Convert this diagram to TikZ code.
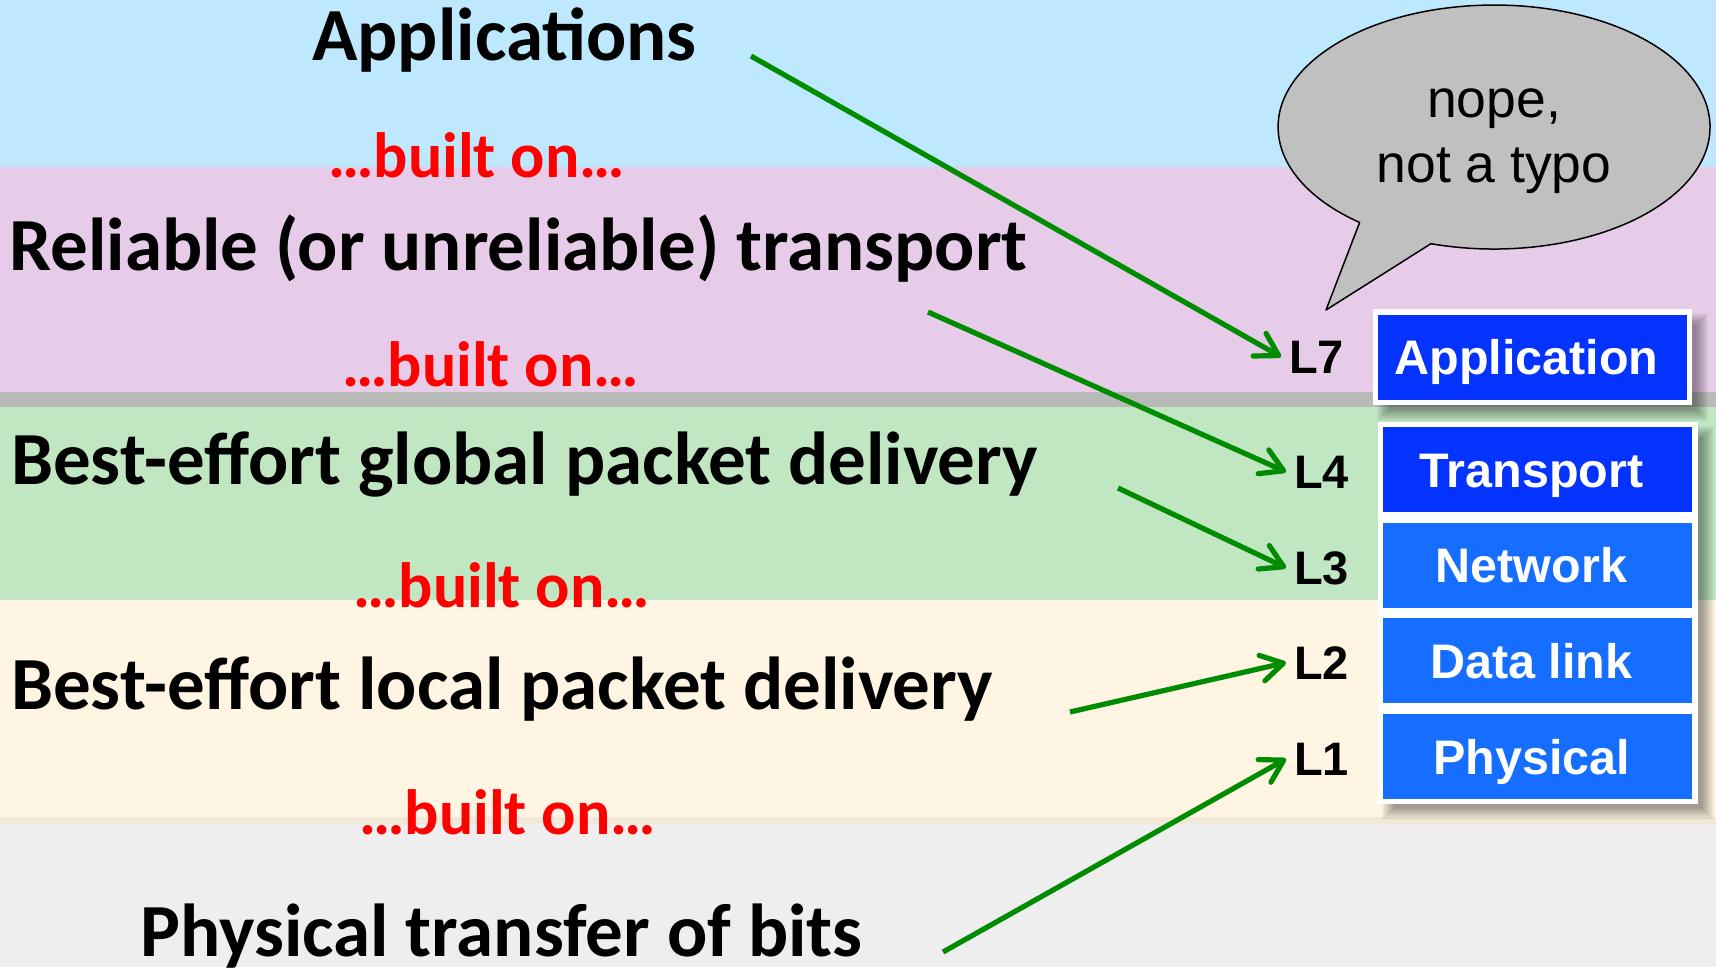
\documentclass[tikz,border=0pt]{standalone}
\usepackage{fontspec}
\setmainfont{Carlito}
\newfontfamily\arialfont{Liberation Sans}
\usetikzlibrary{arrows.meta}

\definecolor{skyband}{RGB}{190,232,253}
\definecolor{pinkband}{RGB}{230,204,232}
\definecolor{greyrule}{RGB}{184,186,184}
\definecolor{greenband}{RGB}{192,230,194}
\definecolor{creamband}{RGB}{255,245,226}
\definecolor{creamrule}{RGB}{242,232,216}
\definecolor{floorband}{RGB}{238,238,238}
\definecolor{arrowgreen}{RGB}{0,140,0}
\definecolor{deepblue}{RGB}{4,51,255}
\definecolor{brightblue}{RGB}{21,110,255}
\definecolor{bubblegrey}{RGB}{192,192,192}

\begin{document}
\begin{tikzpicture}[x=1pt,y=-1pt,
  heading/.style={anchor=base west, inner sep=0pt, font=\fontsize{75}{90}\selectfont\bfseries},
  builton/.style={anchor=base west, inner sep=0pt, text=red, font=\fontsize{64}{77}\selectfont\bfseries},
  layerlabel/.style={anchor=base west, inner xsep=8pt, inner ysep=0pt, font=\arialfont\fontsize{47}{56}\selectfont\bfseries},
  layerbox/.style={minimum width=309pt, minimum height=85pt, inner sep=0pt, text=white, text height=35pt, text depth=0pt,
    font=\arialfont\fontsize{48.5}{58}\selectfont\bfseries, execute at end node={\hspace*{12pt}}},
  link/.style={draw=arrowgreen, line width=5.2pt, -{Straight Barb[round, length=22pt, width=26pt]}},
  bubbletext/.style={anchor=base, inner sep=0pt, font=\arialfont\fontsize{53.5}{64}\selectfont},
]
\useasboundingbox (0,0) rectangle (1716,967);

% horizontal bands, one per level
\fill[skyband]   (0,0)   rectangle (1716,167);
\fill[pinkband]  (0,167) rectangle (1716,392);
\fill[greyrule]  (0,392) rectangle (1716,407);
\fill[greenband] (0,407) rectangle (1716,600);
\fill[creamband] (0,600) rectangle (1716,817);
\fill[creamrule] (0,817) rectangle (1716,824);
\fill[floorband] (0,824) rectangle (1716,967);

% soft shadows behind the layer stack
\foreach \s in {0,...,12} {
  \fill[black, opacity=0.03] ({1389-\s},{325-\s}) rectangle ({1696+\s},{409+\s});
  \fill[black, opacity=0.03] ({1394-\s},{438-\s}) rectangle ({1702+\s},{808+\s});
}

% white frames of the stack
\fill[white] (1373,309) rectangle (1692,405);
\fill[white] (1378,422) rectangle (1698,804);

% layer boxes
\node[layerbox, fill=deepblue]   (app) at (1532.5,357)   {Application};
\node[layerbox, fill=deepblue]   (tra) at (1537.5,469.5) {Transport};
\node[layerbox, fill=brightblue] (net) at (1537.5,565)   {Network};
\node[layerbox, fill=brightblue] (dat) at (1537.5,660.5) {Data link};
\node[layerbox, fill=brightblue] (phy) at (1537.5,756.5) {Physical};

% layer numbers
\node[layerlabel] (L7) at (1281,373) {L7};
\node[layerlabel] (L4) at (1286,488) {L4};
\node[layerlabel] (L3) at (1286,584) {L3};
\node[layerlabel] (L2) at (1286,679) {L2};
\node[layerlabel] (L1) at (1286,775) {L1};

% level descriptions
\node[heading] (apps) at (312,60)  {Applications};
\node[heading] (rel)  at (9,270)   {Reliable (or unreliable) transport};
\node[heading] (glob) at (11,484)  {Best-effort global packet delivery};
\node[heading] (loc)  at (11,709)  {Best-effort local packet delivery};
\node[heading] (bits) at (140,956) {Physical transfer of bits};

\node[builton] (on1) at (328,177) {…built on…};
\node[builton] (on2) at (342,386) {…built on…};
\node[builton] (on3) at (353,607) {…built on…};
\node[builton] (on4) at (359,834) {…built on…};

% speech bubble
\filldraw[fill=bubblegrey, draw=black, line width=1.5pt, line join=round]
  (1359.6,222.5) arc[start angle=128.5, end angle=467, x radius=216, y radius=122]
  -- (1326,310) -- cycle;
\node[bubbletext] (nope) at (1494,117) {nope,};
\node[bubbletext] (typo) at (1494,182) {not a typo};

% arrows from each description to its layer number
\coordinate (fromApps) at (751,56);
\coordinate (fromRel)  at (928,312);
\coordinate (fromGlob) at (1118,488);
\coordinate (fromLoc)  at (1070,712);
\coordinate (fromBits) at (943,952);
\draw[link] (fromApps) -- (L7.west);
\draw[link] (fromRel)  -- (L4.west);
\draw[link] (fromGlob) -- (L3.west);
\draw[link] (fromLoc)  -- (L2.west);
\draw[link] (fromBits) -- (L1.west);
\end{tikzpicture}
\end{document}
